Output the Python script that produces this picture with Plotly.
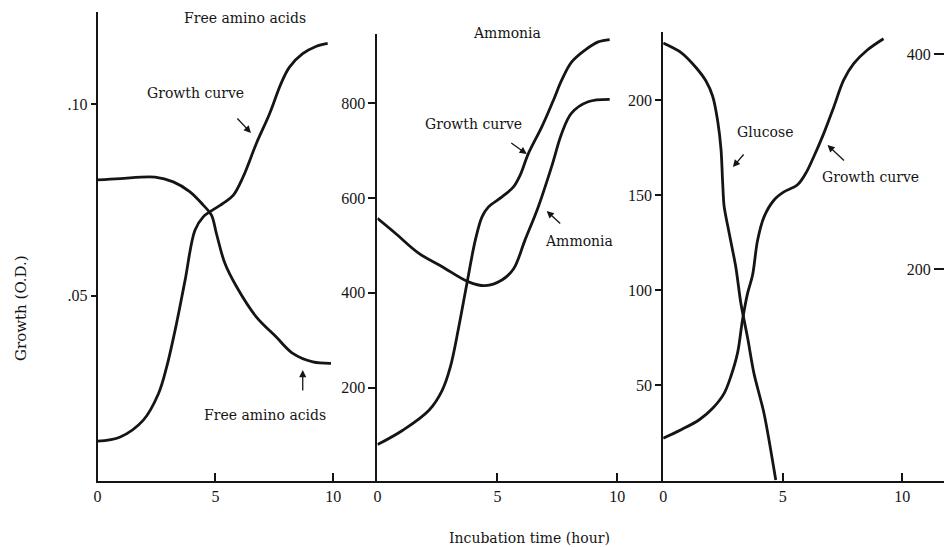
import plotly.graph_objects as go

W, H = 944, 547

# ---- data -----------------------------------------------------------------
hour_ticks = [0, 5, 10]

# Panel 1: growth (O.D.) and free amino acids
p1_growth_t = [0, 0.96, 1.94, 2.58, 2.93, 3.35, 3.71, 4.13, 4.48, 4.76, 5.32,
               5.75, 6.17, 6.73, 7.30, 7.78, 8.14, 8.70, 9.26, 9.76]
p1_growth_od = [0.0120, 0.0131, 0.0175, 0.0244, 0.0314, 0.0428, 0.0540, 0.0671,
                0.0706, 0.0719, 0.0741, 0.0762, 0.0810, 0.0897, 0.0976, 0.1054,
                0.1097, 0.1132, 0.1151, 0.1159]
amino_t = [0, 0.96, 2.44, 3.21, 3.92, 4.48, 4.83, 5.04, 5.40, 5.89, 6.73,
           7.57, 8.28, 9.13, 9.90]
amino_val = [638, 641, 644, 634, 613, 585, 564, 525, 462, 413, 349, 307, 272,
             254, 251]

# Panel 2: growth (O.D.) and ammonia
p2_growth_t = [0, 1.04, 2.15, 2.70, 3.04, 3.39, 3.73, 4.08, 4.36, 4.63, 5.19,
               5.67, 5.95, 6.29, 6.85, 7.33, 7.68, 8.09, 8.64, 9.20, 9.68]
p2_growth_od = [0.0111, 0.0148, 0.0201, 0.0253, 0.0314, 0.0418, 0.0532, 0.0645,
                0.0706, 0.0732, 0.0758, 0.0784, 0.0815, 0.0871, 0.0941, 0.1010,
                0.1063, 0.1110, 0.1141, 0.1163, 0.1169]
ammonia_t = [0, 0.76, 1.73, 2.70, 3.80, 4.49, 5.19, 5.67, 6.15, 6.71, 7.26,
             7.68, 8.09, 8.78, 9.68]
ammonia_val = [557, 525, 483, 455, 423, 415, 427, 450, 511, 582, 666, 736,
               779, 803, 808]

# Panel 3: growth (O.D.) and glucose
p3_growth_t = [0, 0.75, 1.51, 2.07, 2.55, 2.83, 3.11, 3.32, 3.53, 3.74, 3.95,
               4.22, 4.64, 5.05, 5.61, 5.96, 6.30, 6.72, 7.14, 7.55, 7.97,
               8.53, 9.22]
p3_growth_od = [0.0128, 0.0150, 0.0176, 0.0206, 0.0245, 0.0289, 0.0350, 0.0437,
                0.0506, 0.0554, 0.0645, 0.0706, 0.0750, 0.0771, 0.0789, 0.0819,
                0.0863, 0.0924, 0.0993, 0.1063, 0.1106, 0.1141, 0.1171]
glucose_t = [0, 0.75, 1.38, 1.79, 2.07, 2.28, 2.42, 2.49, 2.55, 2.76, 3.04,
             3.25, 3.53, 3.80, 4.22, 4.71]
glucose_val = [230, 225, 217, 210, 202, 189, 174, 156, 144, 130, 112, 93, 75,
               56, 35, 0]

# Axis tick values
od_ticks = [0.05, 0.10]
od_ticktext = [".05", ".10"]
ammonia_ticks = [200, 400, 600, 800]
glucose_ticks = [50, 100, 150, 200]
edge_ticks = [200, 400]

# ---- helpers --------------------------------------------------------------
INK = "#151515"
TICK_FONT = dict(family="Liberation Serif", size=16, color=INK)
LABEL_FONT = dict(family="DejaVu Serif", size=14, color=INK)


def px(x):
    return x / W


def py(y):
    return 1 - y / H


def curve(t, v, xa, ya, smoothing=1.0):
    return go.Scatter(x=t, y=v, xaxis=xa, yaxis=ya, mode="lines",
                      line=dict(color=INK, width=2.8, shape="spline",
                                smoothing=smoothing),
                      hoverinfo="skip", showlegend=False)


fig = go.Figure()
fig.add_trace(curve(p1_growth_t, p1_growth_od, "x", "y"))
fig.add_trace(curve(amino_t, amino_val, "x", "y2"))
fig.add_trace(curve(p2_growth_t, p2_growth_od, "x2", "y"))
fig.add_trace(curve(ammonia_t, ammonia_val, "x2", "y2"))
fig.add_trace(curve(p3_growth_t, p3_growth_od, "x3", "y"))
fig.add_trace(curve(glucose_t, glucose_val, "x3", "y3", smoothing=0.8))
# empty trace so the partial right-hand scale gets drawn
fig.add_trace(go.Scatter(x=[], y=[], xaxis="x3", yaxis="y4", showlegend=False))

xcommon = dict(showline=True, linewidth=2, linecolor=INK, showgrid=False,
               zeroline=False, ticks="inside", ticklen=8, tickwidth=1.5,
               tickcolor=INK, tickvals=hour_ticks, tickfont=TICK_FONT,
               fixedrange=True)
ycommon = dict(showline=True, linewidth=2, linecolor=INK, showgrid=False,
               zeroline=False, ticks="outside", tickwidth=1.5, tickcolor=INK,
               tickfont=TICK_FONT, fixedrange=True)

bottom = py(481)

fig.update_layout(
    width=W, height=H,
    margin=dict(l=0, r=0, t=0, b=0),
    paper_bgcolor="white", plot_bgcolor="rgba(0,0,0,0)",
    showlegend=False,
    xaxis=dict(xcommon, domain=[px(94), px(375)], range=[0, 11.87], anchor="y"),
    xaxis2=dict(xcommon, domain=[px(375), px(662)], range=[0, 11.91], anchor="y2"),
    xaxis3=dict(xcommon, domain=[px(662), 1.0], range=[0, 11.75], anchor="y3"),
    yaxis=dict(ycommon, domain=[bottom, py(12)], range=[0.0016, 0.1241],
               anchor="x", ticklen=5, tickvals=od_ticks, ticktext=od_ticktext),
    yaxis2=dict(ycommon, domain=[bottom, py(34)], range=[2.7, 946],
                anchor="x2", ticklen=7, tickvals=ammonia_ticks),
    yaxis3=dict(ycommon, domain=[bottom, py(32)], range=[-0.5, 235.8],
                anchor="x3", ticklen=6, tickvals=glucose_ticks),
    yaxis4=dict(ycommon, showline=False, overlaying="y3", anchor="free",
                position=1.0, side="left", range=[2.8, 420.5], ticklen=10,
                tickvals=edge_ticks),
)

# ---- text labels ------------------------------------------------------------
labels = [
    ("Free amino acids", 242, 18),
    ("Ammonia", 505, 33),
    ("Growth curve", 192, 93),
    ("Free amino acids", 262, 415),
    ("Growth curve", 471, 124),
    ("Ammonia", 577, 241),
    ("Glucose", 764, 132),
    ("Growth curve", 870, 177),
    ("Incubation time (hour)", 528, 538),
]
for text, x, y in labels:
    fig.add_annotation(text=text, x=px(x), y=py(y), xref="paper", yref="paper",
                       showarrow=False, font=LABEL_FONT,
                       xanchor="center", yanchor="middle")

fig.add_annotation(text="Growth (O.D.)", x=px(17), y=py(308), xref="paper",
                   yref="paper", showarrow=False, textangle=-90,
                   font=dict(LABEL_FONT, size=15),
                   xanchor="center", yanchor="middle")

# pointer arrows: (tail x, tail y, head x, head y) in page pixels
arrows = [
    (233, 117, 248, 133),
    (300, 392, 300, 370),
    (508, 142, 525, 154),
    (560, 225, 545, 211),
    (744, 153, 732, 167),
    (845, 162, 827, 145),
]
for tx, ty, hx, hy in arrows:
    fig.add_annotation(text="", x=px(hx), y=py(hy), xref="paper", yref="paper",
                       ax=tx - hx, ay=ty - hy, showarrow=True, arrowhead=2,
                       arrowsize=1.1, arrowwidth=1.3, arrowcolor=INK)

fig.write_html("out.html")
